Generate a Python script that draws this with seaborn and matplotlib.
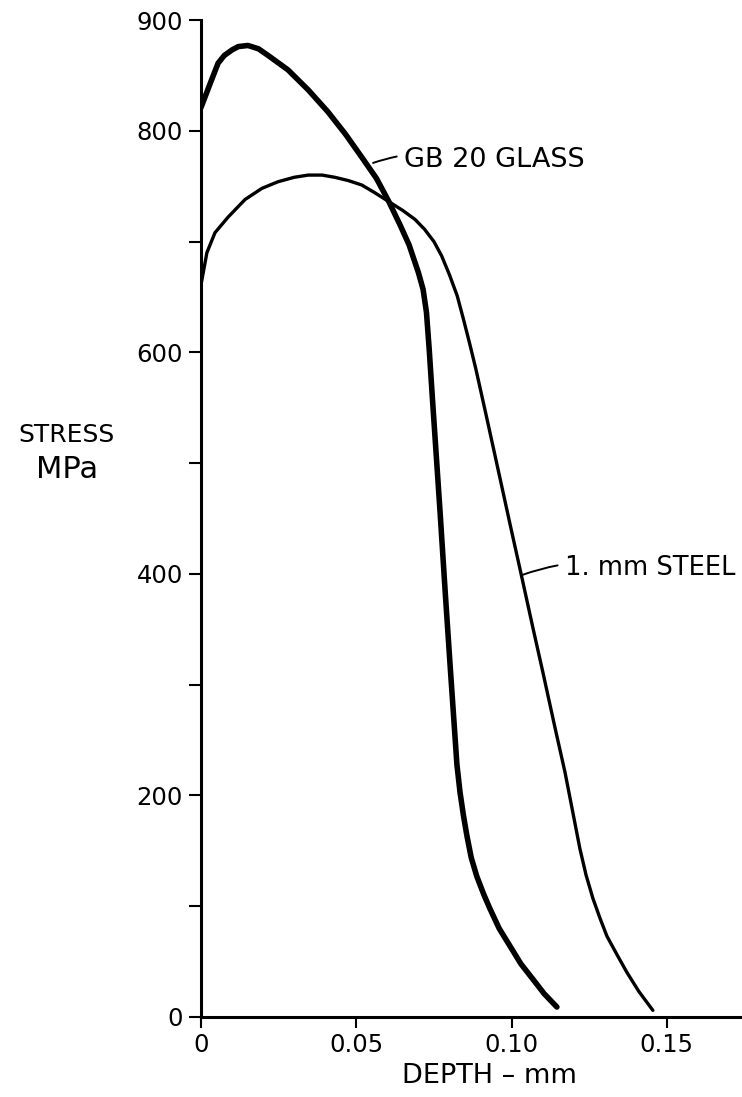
import matplotlib
matplotlib.use("Agg")
import matplotlib.pyplot as plt
from matplotlib.ticker import FixedLocator, FixedFormatter
import pandas as pd
import seaborn as sns

# Residual stress profiles (depth in mm, stress in MPa)
glass_depth = [0.0, 0.0030, 0.0055, 0.0075, 0.0100, 0.0120, 0.0151, 0.0185,
               0.0216, 0.0280, 0.0345, 0.0409, 0.0465, 0.0518, 0.0565, 0.0605,
               0.0641, 0.0670, 0.0700, 0.0715, 0.0726, 0.0735, 0.0745, 0.0770,
               0.0786, 0.0802, 0.0824, 0.0834, 0.0845, 0.0856, 0.0870, 0.0888,
               0.0910, 0.0930, 0.0960, 0.0995, 0.1030, 0.1069, 0.1105, 0.1146]
glass_stress = [821, 843, 861, 868, 873, 876, 877, 874,
                868, 855, 837, 817, 797, 776, 757, 736,
                715, 697, 672, 657, 636, 602, 559, 455,
                385, 318, 228, 203, 182, 164, 144, 127,
                111, 98, 80, 64, 48, 34, 21, 9]

steel_depth = [0.0, 0.0019, 0.0045, 0.0087, 0.0142, 0.0196, 0.0248, 0.0300,
               0.0345, 0.0390, 0.0431, 0.0475, 0.0518, 0.0560, 0.0605, 0.0650,
               0.0689, 0.0720, 0.0750, 0.0775, 0.0800, 0.0825, 0.0845, 0.0865,
               0.0885, 0.0920, 0.0956, 0.0995, 0.1033, 0.1069, 0.1101, 0.1140,
               0.1172, 0.1195, 0.1220, 0.1240, 0.1262, 0.1285, 0.1307, 0.1340,
               0.1372, 0.1410, 0.1455]
steel_stress = [661, 690, 708, 722, 738, 748, 754, 758,
                760, 760, 758, 755, 751, 744, 736, 728,
                720, 711, 700, 687, 670, 651, 630, 608,
                585, 541, 495, 445, 397, 351, 311, 261,
                221, 188, 152, 128, 107, 89, 73, 56,
                40, 23, 6]

x_ticks = [0.0, 0.05, 0.10, 0.15]
x_tick_labels = ["0", "0.05", "0.10", "0.15"]
y_ticks = [0, 100, 200, 300, 400, 500, 600, 700, 800, 900]
y_tick_labels = ["0", "", "200", "", "400", "", "600", "", "800", "900"]

glass_label = "GB 20 GLASS"
steel_label = "1. mm STEEL"

sns.set_style("ticks")
plt.rcParams["font.family"] = ["DejaVu Sans"]
plt.rcParams["text.color"] = "black"
plt.rcParams["axes.labelcolor"] = "black"

fig = plt.figure(figsize=(7.42, 10.97), dpi=100)
ax = fig.add_axes([201 / 742, 80 / 1097, 541 / 742, 997 / 1097])

glass_df = pd.DataFrame({"depth": glass_depth, "stress": glass_stress})
steel_df = pd.DataFrame({"depth": steel_depth, "stress": steel_stress})

sns.lineplot(data=glass_df, x="depth", y="stress", ax=ax, sort=False,
             estimator=None, color="black", linewidth=4.0,
             solid_capstyle="round", solid_joinstyle="round")
sns.lineplot(data=steel_df, x="depth", y="stress", ax=ax, sort=False,
             estimator=None, color="black", linewidth=2.4,
             solid_capstyle="round", solid_joinstyle="round")

ax.set_xlim(0, 0.1742)
ax.set_ylim(0, 900)

for side in ("top", "right"):
    ax.spines[side].set_visible(False)
for side in ("left", "bottom"):
    ax.spines[side].set_linewidth(2.2)
    ax.spines[side].set_color("black")

ax.xaxis.set_major_locator(FixedLocator(x_ticks))
ax.xaxis.set_major_formatter(FixedFormatter(x_tick_labels))
ax.yaxis.set_major_locator(FixedLocator(y_ticks))
ax.yaxis.set_major_formatter(FixedFormatter(y_tick_labels))
ax.tick_params(axis="y", direction="out", length=8.6, width=1.5, pad=4.3,
               labelsize=17.5, colors="black")
ax.tick_params(axis="x", direction="out", length=8.0, width=1.5, pad=3.6,
               labelsize=17.5, colors="black")

ax.set_xlabel("DEPTH – mm", fontsize=19.5, color="black")
ax.xaxis.set_label_coords((489 - 201) / 541, -(1076 - 1017) / 997)
ax.xaxis.label.set_va("center")
ax.set_ylabel("")

fig.text(66 / 742, 1 - 435 / 1097, "STRESS", ha="center", va="center",
         fontsize=18, color="black")
fig.text(67 / 742, 1 - 470 / 1097, "MPa", ha="center", va="center",
         fontsize=22, color="black")

ax.annotate(glass_label, xy=(0.0554, 771), xytext=(0.0654, 774),
            ha="left", va="center", fontsize=19.5, color="black",
            arrowprops=dict(arrowstyle="-", color="black", lw=1.4,
                            shrinkA=3, shrinkB=0,
                            connectionstyle="arc3,rad=0.15"))
ax.annotate(steel_label, xy=(0.1034, 399), xytext=(0.1172, 405),
            ha="left", va="center", fontsize=18.5, color="black",
            arrowprops=dict(arrowstyle="-", color="black", lw=1.4,
                            shrinkA=3, shrinkB=0,
                            connectionstyle="arc3,rad=0.15"))

fig.savefig("out.png", dpi=100, facecolor="white")
